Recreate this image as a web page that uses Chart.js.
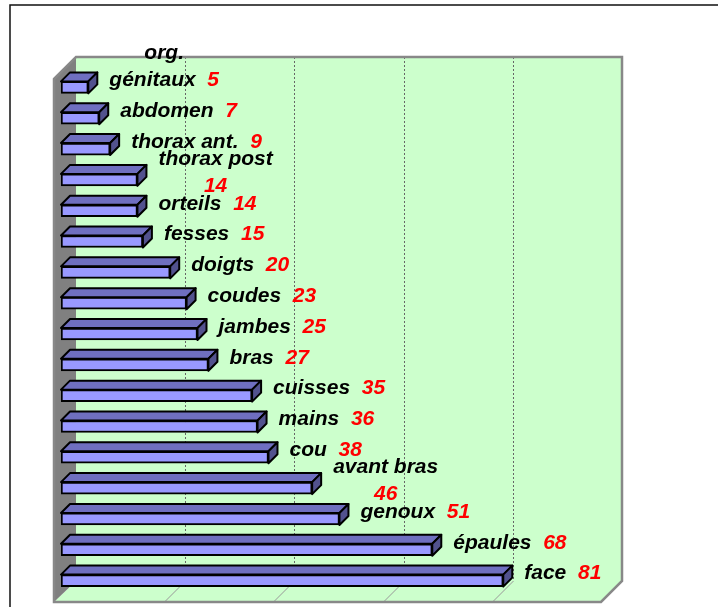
<!doctype html>
<html lang="fr">
<head>
    <meta charset="UTF-8">
    <title>Localisation</title>
    <style>
        body { margin: 0; background: #fff; }
        #chart-box { width: 718px; height: 607px; }
    </style>
</head>
<body>
    <div id="chart-box"><canvas id="my-chart" width="718" height="607"></canvas></div>
</body>
<script src="https://cdn.jsdelivr.net/npm/chart.js@4.4.0/dist/chart.umd.min.js"></script>
<script>

    // noms (avec retour a la ligne comme sur l'original) et valeurs
    let categories = ['org.\ngénitaux', 'abdomen', 'thorax ant.', 'thorax post\n', 'orteils', 'fesses', 'doigts', 'coudes', 'jambes', 'bras', 'cuisses', 'mains', 'cou', 'avant bras\n', 'genoux', 'épaules', 'face']
    let values = [5, 7, 9, 14, 14, 15, 20, 23, 25, 27, 35, 36, 38, 46, 51, 68, 81]
    let gridValues = [20, 40, 60, 80]

    let depth = 15      // decalage du mur du fond
    let front = 6       // decalage du bord avant du sol
    let barDepth = 9    // epaisseur 3D des barres
    let labelFont = 'bold italic 21px "Liberation Sans", Arial, sans-serif'

    let walls = {
        id: 'walls',
        beforeDatasetsDraw(chart) {
            let ctx = chart.ctx
            let a = chart.chartArea
            let xs = chart.scales.x
            ctx.save()

            // cadre exterieur
            ctx.strokeStyle = '#111'
            ctx.lineWidth = 1.5
            ctx.beginPath()
            ctx.moveTo(10, 607)
            ctx.lineTo(10, 5)
            ctx.lineTo(718, 5)
            ctx.stroke()

            let bl = a.left + depth, br = a.right + depth, bt = a.top - depth, bb = a.bottom - depth
            let fl = a.left - front - 1, fr = a.right - front, fb = a.bottom + front

            // mur du fond
            ctx.fillStyle = '#ccffcc'
            ctx.fillRect(bl, bt, br - bl, bb - bt)

            // sol
            ctx.beginPath()
            ctx.moveTo(fl, fb)
            ctx.lineTo(bl, bb)
            ctx.lineTo(br, bb)
            ctx.lineTo(fr, fb)
            ctx.closePath()
            ctx.fill()

            // mur gauche
            ctx.fillStyle = '#808080'
            ctx.beginPath()
            ctx.moveTo(fl, bt + (bl - fl))
            ctx.lineTo(bl, bt)
            ctx.lineTo(bl, bb)
            ctx.lineTo(fl, fb)
            ctx.closePath()
            ctx.fill()

            // quadrillage
            ctx.lineWidth = 1
            gridValues.forEach(v => {
                let x = Math.round(xs.getPixelForValue(v)) + 0.5
                ctx.strokeStyle = '#666'
                ctx.setLineDash([2, 2])
                ctx.beginPath()
                ctx.moveTo(x + depth, bt)
                ctx.lineTo(x + depth, bb)
                ctx.stroke()
                ctx.setLineDash([])
                ctx.strokeStyle = '#999'
                ctx.beginPath()
                ctx.moveTo(x + depth, bb)
                ctx.lineTo(x - front, fb)
                ctx.stroke()
            })

            // bords gris
            ctx.strokeStyle = '#888'
            ctx.lineWidth = 2.5
            ctx.beginPath()
            ctx.moveTo(fl, bt + (bl - fl))
            ctx.lineTo(bl, bt)
            ctx.lineTo(br, bt)
            ctx.lineTo(br, bb)
            ctx.lineTo(fr, fb)
            ctx.lineTo(fl, fb)
            ctx.closePath()
            ctx.stroke()
            ctx.restore()
        }
    }

    let bars3d = {
        id: 'bars3d',
        afterDatasetsDraw(chart) {
            let ctx = chart.ctx
            let meta = chart.getDatasetMeta(0)
            ctx.save()
            ctx.lineWidth = 2
            ctx.strokeStyle = '#000'
            ctx.lineJoin = 'round'
            meta.data.forEach((bar, i) => {
                let p = bar.getProps(['x', 'y', 'base', 'height'], true)
                let top = p.y - p.height / 2
                let bottom = p.y + p.height / 2
                let d = barDepth
                // dessus
                ctx.fillStyle = '#6f6fc0'
                ctx.beginPath()
                ctx.moveTo(p.base, top)
                ctx.lineTo(p.base + d, top - d)
                ctx.lineTo(p.x + d, top - d)
                ctx.lineTo(p.x, top)
                ctx.closePath()
                ctx.fill()
                ctx.stroke()
                // cote
                ctx.fillStyle = '#52528e'
                ctx.beginPath()
                ctx.moveTo(p.x, top)
                ctx.lineTo(p.x + d, top - d)
                ctx.lineTo(p.x + d, bottom - d)
                ctx.lineTo(p.x, bottom)
                ctx.closePath()
                ctx.fill()
                ctx.stroke()

                // etiquette : nom en noir, valeur en rouge
                ctx.font = labelFont
                ctx.textBaseline = 'middle'
                ctx.textAlign = 'left'
                let lines = categories[i].split('\n')
                let parts = lines.map((l, k) => {
                    let val = (k == lines.length - 1) ? String(values[i]) : ''
                    let sep = (l && val) ? '  ' : ''
                    let wName = ctx.measureText(l + sep).width
                    let wVal = ctx.measureText(val).width
                    return { name: l + sep, val: val, wName: wName, w: wName + wVal }
                })
                let blockW = Math.max(...parts.map(q => q.w))
                let cx = p.x + d + 12 + blockW / 2
                let lh = 27
                let last = lines[lines.length - 1]
                // la ligne "nom valeur" reste en face de la barre, sinon le bloc est centre
                let y0 = last ? p.y - 7 - (parts.length - 1) * lh : p.y - 7 - (parts.length - 1) * lh / 2
                parts.forEach((q, k) => {
                    let lx = cx - q.w / 2
                    let ly = y0 + k * lh
                    ctx.fillStyle = '#000'
                    ctx.fillText(q.name, lx, ly)
                    ctx.fillStyle = '#ff0000'
                    ctx.fillText(q.val, lx + q.wName, ly)
                })
            })
            ctx.restore()
        }
    }

    let config = {
        type: 'bar',
        data: {
            labels: categories,
            datasets: [{
                data: values,
                backgroundColor: '#9999ff',
                borderColor: '#000',
                borderWidth: 2,
                borderSkipped: false,
                barThickness: 12
            }]
        },
        options: {
            indexAxis: 'y',
            responsive: false,
            animation: false,
            layout: {
                padding: { left: 61, top: 72, right: 111, bottom: 11 }
            },
            plugins: {
                legend: { display: false },
                tooltip: { enabled: false }
            },
            scales: {
                x: { min: 0, max: 100, display: false },
                y: { display: false }
            }
        },
        plugins: [walls, bars3d]
    }
    let myChart = new Chart(document.getElementById('my-chart'), config)

</script>
</html>
